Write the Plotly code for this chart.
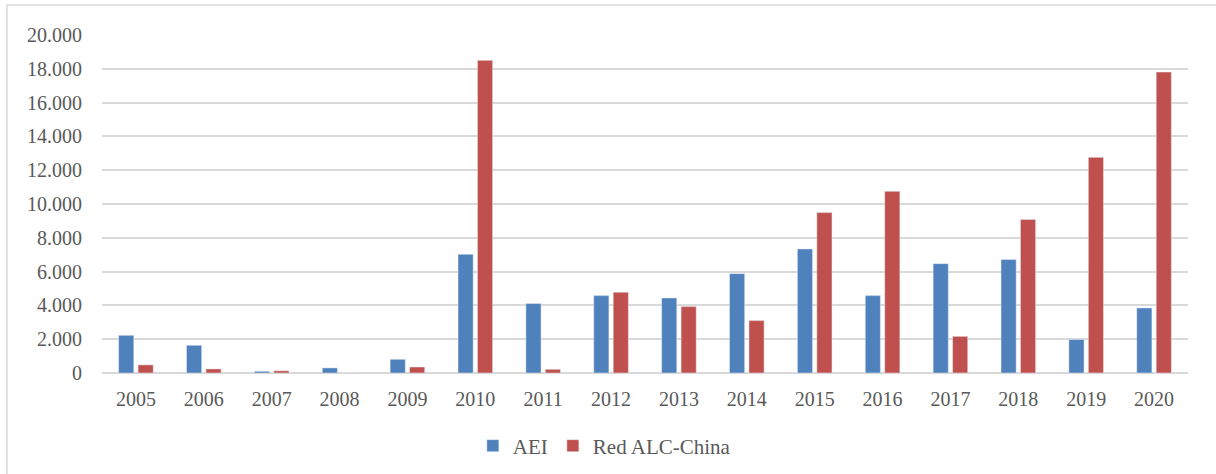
import plotly.graph_objects as go

# Yearly values for the two series
years = ["2005", "2006", "2007", "2008", "2009", "2010", "2011", "2012",
         "2013", "2014", "2015", "2016", "2017", "2018", "2019", "2020"]
aei = [2230, 1640, 100, 300, 810, 7020, 4110, 4580,
       4440, 5880, 7340, 4580, 6470, 6710, 1980, 3850]
red_alc_china = [480, 240, 130, 0, 355, 18500, 220, 4780,
                 3930, 3100, 9490, 10750, 2170, 9090, 12760, 17810]

y_ticks = [0, 2000, 4000, 6000, 8000, 10000, 12000, 14000, 16000, 18000, 20000]

W, H = 1216, 474
L, R, T, B = 102, 28, 35, 101
plot_w = W - L - R
plot_h = H - T - B

text_color = "#595959"
grid_color = "#D9D9D9"
font_family = "Liberation Serif, Times New Roman, serif"

fig = go.Figure()
fig.add_trace(go.Bar(name="AEI", x=years, y=aei, marker_color="#4F81BD"))
fig.add_trace(go.Bar(name="Red ALC-China", x=years, y=red_alc_china,
                     marker_color="#C0504D"))

# Outer chart-area frame
fig.add_shape(type="rect", xref="paper", yref="paper",
              x0=(7 - L) / plot_w, x1=(W + 10 - L) / plot_w,
              y0=-(H + 10 - T - plot_h) / plot_h, y1=1 + (T - 5) / plot_h,
              line=dict(color=grid_color, width=1.5), layer="below")

fig.update_layout(
    width=W, height=H,
    margin=dict(l=L, r=R, t=T, b=B),
    paper_bgcolor="white", plot_bgcolor="white",
    barmode="group", bargap=0.427, bargroupgap=0.221,
    separators=",.",
    font=dict(family=font_family, size=20, color=text_color),
    showlegend=True,
    legend=dict(orientation="h", xref="container", yref="container",
                x=0.497, xanchor="center", y=1 - 446 / H, yanchor="middle",
                font=dict(size=21, color=text_color),
                itemwidth=30, tracegroupgap=0, bgcolor="rgba(0,0,0,0)"),
    xaxis=dict(showline=False, ticks="", showgrid=False,
               ticklabelstandoff=12,
               tickfont=dict(size=20, color=text_color)),
    yaxis=dict(range=[0, 20000], tickvals=y_ticks, tickformat=",.0f",
               showgrid=True, gridcolor=grid_color, gridwidth=1.5,
               zeroline=True, zerolinecolor=grid_color, zerolinewidth=1.5,
               showline=False, ticks="", ticklabelstandoff=19,
               tickfont=dict(size=20, color=text_color)),
)

fig.write_html("out.html")
